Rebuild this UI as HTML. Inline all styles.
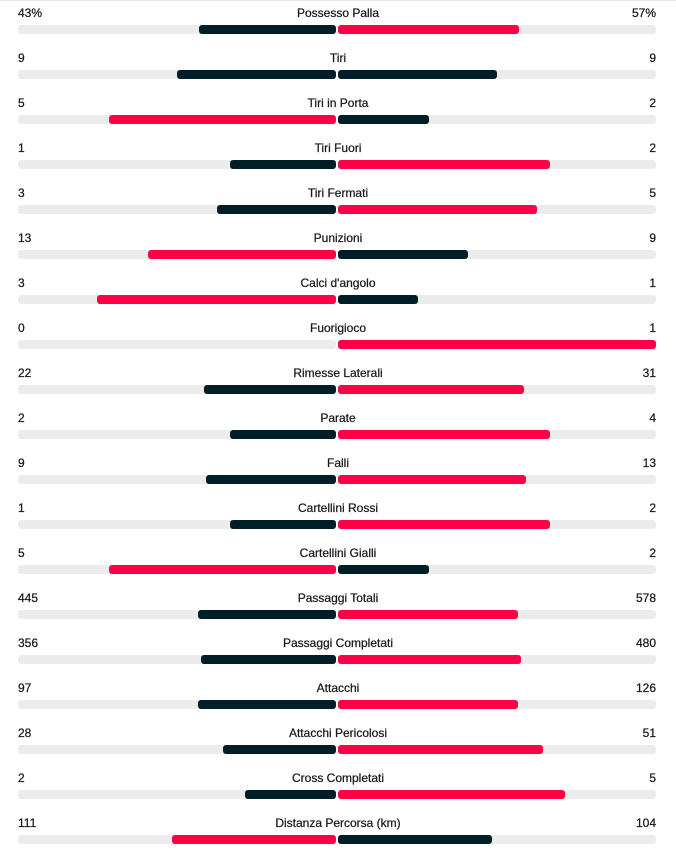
<!DOCTYPE html><html><head><meta charset="utf-8"><style>
*{margin:0;padding:0;box-sizing:border-box}
body{width:676px;height:855px;background:#fff;font-family:"Liberation Sans",sans-serif;font-size:12px;color:#1a1a1a;position:relative;overflow:hidden}
.top{position:absolute;left:0;top:0;width:676px;height:1px;background:#e8e8e8}
.r{position:absolute;left:0;width:676px;height:45px}
.l,.c,.v{position:absolute;top:5px;line-height:16px;-webkit-text-stroke:0.25px #1a1a1a}
.l{left:18px}.v{right:20px}.c{left:0;width:676px;text-align:center}
.tl,.tr{position:absolute;top:25px;height:9px;width:318px;background:#ececec;border-radius:3px}
.tl{left:18px}.tr{left:338px}
.b{position:absolute;top:0;height:9px;border-radius:3px}
.tl .b{right:0}.tr .b{left:0}
.d{background:#001e28}.p{background:#ff0046}
</style></head><body>
<div class="top"></div>
<div class="r" style="top:0"><span class="l">43%</span><span class="c">Possesso Palla</span><span class="v">57%</span><div class="tl"><div class="b d" style="width:137px"></div></div><div class="tr"><div class="b p" style="width:181px"></div></div></div>
<div class="r" style="top:45px"><span class="l">9</span><span class="c">Tiri</span><span class="v">9</span><div class="tl"><div class="b d" style="width:159px"></div></div><div class="tr"><div class="b d" style="width:159px"></div></div></div>
<div class="r" style="top:90px"><span class="l">5</span><span class="c">Tiri in Porta</span><span class="v">2</span><div class="tl"><div class="b p" style="width:227px"></div></div><div class="tr"><div class="b d" style="width:91px"></div></div></div>
<div class="r" style="top:135px"><span class="l">1</span><span class="c">Tiri Fuori</span><span class="v">2</span><div class="tl"><div class="b d" style="width:106px"></div></div><div class="tr"><div class="b p" style="width:212px"></div></div></div>
<div class="r" style="top:180px"><span class="l">3</span><span class="c">Tiri Fermati</span><span class="v">5</span><div class="tl"><div class="b d" style="width:119px"></div></div><div class="tr"><div class="b p" style="width:199px"></div></div></div>
<div class="r" style="top:225px"><span class="l">13</span><span class="c">Punizioni</span><span class="v">9</span><div class="tl"><div class="b p" style="width:188px"></div></div><div class="tr"><div class="b d" style="width:130px"></div></div></div>
<div class="r" style="top:270px"><span class="l">3</span><span class="c">Calci d'angolo</span><span class="v">1</span><div class="tl"><div class="b p" style="width:239px"></div></div><div class="tr"><div class="b d" style="width:80px"></div></div></div>
<div class="r" style="top:315px"><span class="l">0</span><span class="c">Fuorigioco</span><span class="v">1</span><div class="tl"></div><div class="tr"><div class="b p" style="width:318px"></div></div></div>
<div class="r" style="top:360px"><span class="l">22</span><span class="c">Rimesse Laterali</span><span class="v">31</span><div class="tl"><div class="b d" style="width:132px"></div></div><div class="tr"><div class="b p" style="width:186px"></div></div></div>
<div class="r" style="top:405px"><span class="l">2</span><span class="c">Parate</span><span class="v">4</span><div class="tl"><div class="b d" style="width:106px"></div></div><div class="tr"><div class="b p" style="width:212px"></div></div></div>
<div class="r" style="top:450px"><span class="l">9</span><span class="c">Falli</span><span class="v">13</span><div class="tl"><div class="b d" style="width:130px"></div></div><div class="tr"><div class="b p" style="width:188px"></div></div></div>
<div class="r" style="top:495px"><span class="l">1</span><span class="c">Cartellini Rossi</span><span class="v">2</span><div class="tl"><div class="b d" style="width:106px"></div></div><div class="tr"><div class="b p" style="width:212px"></div></div></div>
<div class="r" style="top:540px"><span class="l">5</span><span class="c">Cartellini Gialli</span><span class="v">2</span><div class="tl"><div class="b p" style="width:227px"></div></div><div class="tr"><div class="b d" style="width:91px"></div></div></div>
<div class="r" style="top:585px"><span class="l">445</span><span class="c">Passaggi Totali</span><span class="v">578</span><div class="tl"><div class="b d" style="width:138px"></div></div><div class="tr"><div class="b p" style="width:180px"></div></div></div>
<div class="r" style="top:630px"><span class="l">356</span><span class="c">Passaggi Completati</span><span class="v">480</span><div class="tl"><div class="b d" style="width:135px"></div></div><div class="tr"><div class="b p" style="width:183px"></div></div></div>
<div class="r" style="top:675px"><span class="l">97</span><span class="c">Attacchi</span><span class="v">126</span><div class="tl"><div class="b d" style="width:138px"></div></div><div class="tr"><div class="b p" style="width:180px"></div></div></div>
<div class="r" style="top:720px"><span class="l">28</span><span class="c">Attacchi Pericolosi</span><span class="v">51</span><div class="tl"><div class="b d" style="width:113px"></div></div><div class="tr"><div class="b p" style="width:205px"></div></div></div>
<div class="r" style="top:765px"><span class="l">2</span><span class="c">Cross Completati</span><span class="v">5</span><div class="tl"><div class="b d" style="width:91px"></div></div><div class="tr"><div class="b p" style="width:227px"></div></div></div>
<div class="r" style="top:810px"><span class="l">111</span><span class="c">Distanza Percorsa (km)</span><span class="v">104</span><div class="tl"><div class="b p" style="width:164px"></div></div><div class="tr"><div class="b d" style="width:154px"></div></div></div>
</body></html>
